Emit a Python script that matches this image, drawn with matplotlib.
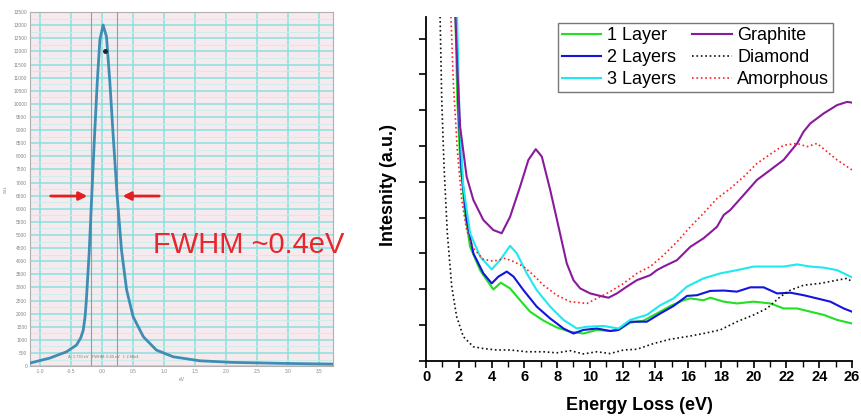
import matplotlib.pyplot as plt
import numpy as np

plt.rcParams['font.family'] = ['Liberation Sans', 'DejaVu Sans']

# ---- left panel: zero-loss peak ----
zlp_x = [-1.16, -0.84, -0.57, -0.41, -0.34, -0.30, -0.27, -0.25, -0.205, -0.166, -0.124,
         -0.075, -0.032, 0.02, 0.075, 0.13, 0.18, 0.247, 0.317, 0.40, 0.505, 0.67,
         0.88, 1.15, 1.58, 2.11, 2.92, 3.73]
zlp_y = [114, 305, 545, 801, 1080, 1373, 1900, 2517, 4310, 6331, 8505,
         10794, 12434, 13006, 12560, 10794, 8887, 6484, 4424, 2899, 1880, 1117,
         610, 355, 202, 141, 103, 76]
zlp_xticks = [-1.0, -0.5, 0.0, 0.5, 1.0, 1.5, 2.0, 2.5, 3.0, 3.5]
zlp_yticks = list(range(0, 14000, 500))
fwhm_edges = [-0.177, 0.242]

# ---- right panel: low-loss spectra ----
l1_x = [1.75, 1.91, 2.08, 2.38, 2.69, 3.30, 3.71, 4.11, 4.56, 5.13, 5.74, 6.35, 7.17, 7.98,
        8.80, 9.61, 10.43, 11.24, 11.75, 12.46, 13.28, 14.09, 14.91, 15.72, 16.13, 16.94,
        17.35, 18.17, 18.98, 20.0, 21.02, 21.83, 22.65, 23.46, 24.28, 25.09, 26.0]
l1_y = [10.5, 7.28, 5.61, 4.12, 3.18, 2.53, 2.25, 1.99, 2.18, 2.02, 1.69, 1.37, 1.12, 0.93,
        0.81, 0.76, 0.86, 0.83, 0.86, 1.06, 1.12, 1.32, 1.53, 1.69, 1.74, 1.69,
        1.76, 1.65, 1.60, 1.65, 1.60, 1.46, 1.46, 1.37, 1.28, 1.14, 1.04]

l2_x = [1.80, 1.98, 2.18, 2.48, 2.89, 3.50, 4.01, 4.42, 4.93, 5.34, 5.95, 6.76, 7.58, 8.39,
        9.00, 9.61, 10.43, 11.24, 11.75, 12.46, 13.48, 14.30, 15.11, 15.93, 16.54, 17.35,
        18.17, 18.98, 19.80, 20.61, 21.43, 22.24, 23.05, 23.87, 24.68, 25.50, 26.0]
l2_y = [10.5, 7.09, 5.23, 3.93, 3.00, 2.44, 2.16, 2.35, 2.49, 2.35, 1.97, 1.51, 1.18, 0.90,
        0.76, 0.86, 0.90, 0.83, 0.86, 1.09, 1.09, 1.32, 1.53, 1.81, 1.83, 1.95,
        1.96, 1.93, 2.05, 2.05, 1.88, 1.90, 1.83, 1.74, 1.65, 1.46, 1.37]

l3_x = [1.85, 2.04, 2.28, 2.69, 3.30, 4.01, 4.52, 5.13, 5.54, 6.15, 6.76, 7.58, 8.39, 9.21,
        9.82, 10.83, 11.75, 12.46, 13.48, 14.30, 15.11, 15.93, 16.94, 17.96, 18.98, 20.0,
        21.02, 21.83, 22.65, 23.46, 24.28, 25.09, 26.0]
l3_y = [10.5, 6.82, 4.86, 3.56, 2.91, 2.55, 2.81, 3.21, 3.00, 2.44, 1.97, 1.51, 1.14, 0.90,
        0.95, 0.97, 0.90, 1.14, 1.28, 1.55, 1.74, 2.07, 2.30, 2.44, 2.53, 2.63,
        2.63, 2.63, 2.69, 2.63, 2.60, 2.53, 2.33]

gr_x = [1.72, 1.91, 2.08, 2.48, 2.89, 3.50, 4.11, 4.62, 5.13, 5.74, 6.25, 6.70, 7.07, 7.58,
        8.09, 8.59, 9.00, 9.41, 10.02, 10.63, 11.14, 11.65, 12.26, 12.87, 13.69, 14.09,
        14.50, 15.32, 16.13, 16.94, 17.76, 18.17, 18.57, 19.39, 20.20, 21.02, 21.83,
        22.65, 23.05, 23.46, 24.28, 25.09, 25.70, 26.0]
gr_y = [10.5, 8.21, 6.54, 5.14, 4.49, 3.93, 3.65, 3.56, 4.02, 4.86, 5.61, 5.91, 5.70, 4.77,
        3.74, 2.72, 2.25, 2.02, 1.88, 1.81, 1.76, 1.88, 2.07, 2.25, 2.39, 2.53,
        2.63, 2.81, 3.18, 3.42, 3.74, 4.07, 4.21, 4.63, 5.05, 5.33, 5.61,
        6.07, 6.40, 6.63, 6.91, 7.14, 7.23, 7.21]

di_x = [0.82, 0.96, 1.10, 1.30, 1.57, 1.87, 2.28, 2.89, 3.50, 4.32, 5.13, 6.15, 7.17, 7.98,
        8.80, 9.61, 10.43, 11.24, 12.06, 12.87, 13.89, 14.91, 16.13, 16.94, 17.96, 18.98,
        20.0, 20.81, 21.63, 22.24, 23.05, 24.07, 25.09, 25.70, 26.0]
di_y = [10.5, 7.28, 5.42, 3.56, 2.07, 1.23, 0.67, 0.39, 0.34, 0.30, 0.30, 0.25, 0.25, 0.22,
        0.28, 0.19, 0.25, 0.20, 0.30, 0.32, 0.48, 0.60, 0.69, 0.76, 0.86, 1.09,
        1.28, 1.46, 1.79, 1.97, 2.11, 2.16, 2.25, 2.30, 2.21]

am_x = [1.45, 1.67, 1.91, 2.18, 2.48, 2.89, 3.50, 4.11, 4.83, 5.34, 5.95, 6.56, 7.17, 7.98,
        8.80, 9.82, 10.43, 11.24, 12.06, 12.87, 13.69, 14.50, 15.32, 16.13, 16.94, 17.76,
        18.57, 19.39, 20.20, 21.02, 21.83, 22.65, 23.26, 23.87, 24.48, 25.09, 26.0]
am_y = [10.5, 7.75, 5.88, 4.49, 3.65, 3.14, 2.83, 2.78, 2.86, 2.77, 2.63, 2.39, 2.11, 1.83,
        1.65, 1.60, 1.74, 1.93, 2.16, 2.44, 2.63, 2.95, 3.32, 3.74, 4.12, 4.53,
        4.81, 5.14, 5.51, 5.77, 6.02, 6.07, 5.98, 6.07, 5.84, 5.61, 5.33]

fig = plt.figure(figsize=(8.61, 4.16), dpi=100)

# left panel
axl = fig.add_axes([0.0348, 0.120, 0.352, 0.851])
axl.set_facecolor('#f6eaef')
axl.plot(zlp_x, zlp_y, color='#3f8db3', lw=2.0, zorder=5)
axl.plot([0.048], [12013], 'o', color='#222222', ms=2.5, zorder=6)
for xe in fwhm_edges:
    axl.axvline(xe, color='#9a9a9a', lw=0.8, zorder=3)
axl.set_xlim(-1.16, 3.73)
axl.set_ylim(0, 13500)
axl.set_xticks(zlp_xticks)
axl.set_xticklabels([f'{v:.1f}' for v in zlp_xticks])
axl.set_yticks(zlp_yticks)
axl.set_yticklabels([str(v) for v in zlp_yticks])
axl.set_yticks(np.arange(250, 13500, 500), minor=True)
axl.grid(True, which='major', color='#86e2de', lw=1.1, zorder=1)
axl.grid(True, which='minor', axis='y', color='#cdeeea', lw=0.7, zorder=1)
axl.set_axisbelow(True)
axl.tick_params(which='both', length=0, labelsize=3.5, labelcolor='#888888', pad=2)
for s in axl.spines.values():
    s.set_color('#b0b0b0')
    s.set_linewidth(0.8)
axl.set_xlabel('eV', fontsize=3.5, color='#888888', labelpad=2)
axl.set_ylabel('a.u.', fontsize=3.5, color='#888888', labelpad=4)
axl.annotate('', xy=(-0.19, 6484), xytext=(-0.87, 6484),
             arrowprops=dict(arrowstyle='-|>', color='#e02020', lw=2, mutation_scale=12),
             zorder=7)
axl.annotate('', xy=(0.29, 6484), xytext=(0.97, 6484),
             arrowprops=dict(arrowstyle='-|>', color='#e02020', lw=2, mutation_scale=12),
             zorder=7)
axl.text(0.82, 4615, 'FWHM ~0.4eV', color='#e8262b', fontsize=21, va='center',
         ha='left', clip_on=False, zorder=8)
axl.text(-0.55, 300, '\u0394: 1.770 eV   FWHM: 0.40 eV   I: 2.86e4', fontsize=2.8,
         color='#777777', zorder=8)

# right panel
axr = fig.add_axes([0.4948, 0.1329, 0.4947, 0.8261])
axr.plot(l1_x, l1_y, color='#22e022', lw=1.5, label='1 Layer')
axr.plot(l2_x, l2_y, color='#1414dc', lw=1.5, label='2 Layers')
axr.plot(l3_x, l3_y, color='#1ee8f0', lw=1.5, label='3 Layers')
axr.plot(gr_x, gr_y, color='#8a1a9c', lw=1.5, label='Graphite')
axr.plot(di_x, di_y, color='#111111', lw=1.2, ls=':', label='Diamond')
axr.plot(am_x, am_y, color='#ff2020', lw=1.2, ls=':', label='Amorphous')
axr.set_xlim(0, 26)
axr.set_ylim(0, 9.6)
axr.set_xticks(range(0, 27, 2))
axr.set_xticks(range(1, 27, 2), minor=True)
axr.set_yticks(range(0, 10))
axr.set_yticklabels([])
axr.tick_params(axis='x', which='major', length=5, width=1.2, labelsize=10.5, pad=2)
axr.tick_params(axis='x', which='minor', length=4, width=1.0)
axr.tick_params(axis='y', which='major', length=5, width=1.2)
for lab in axr.get_xticklabels():
    lab.set_fontweight('bold')
axr.spines['top'].set_visible(False)
axr.spines['right'].set_visible(False)
axr.spines['left'].set_linewidth(1.3)
axr.spines['bottom'].set_linewidth(1.3)
axr.set_xlabel('Energy Loss (eV)', fontsize=13, fontweight='bold')
axr.xaxis.set_label_coords(0.5, -0.105)
axr.set_ylabel('Intesnity (a.u.)', fontsize=13, fontweight='bold')
axr.yaxis.set_label_coords(-0.068, 0.51)
leg = axr.legend(ncol=2, loc='upper right', bbox_to_anchor=(0.955, 0.982),
                 fontsize=13, frameon=True, fancybox=False, edgecolor='#555555',
                 handlelength=2.2, handletextpad=0.3, columnspacing=0.9,
                 labelspacing=0.28, borderpad=0.2, borderaxespad=0)
leg.get_frame().set_linewidth(1.0)

fig.savefig('out.png', dpi=100)
